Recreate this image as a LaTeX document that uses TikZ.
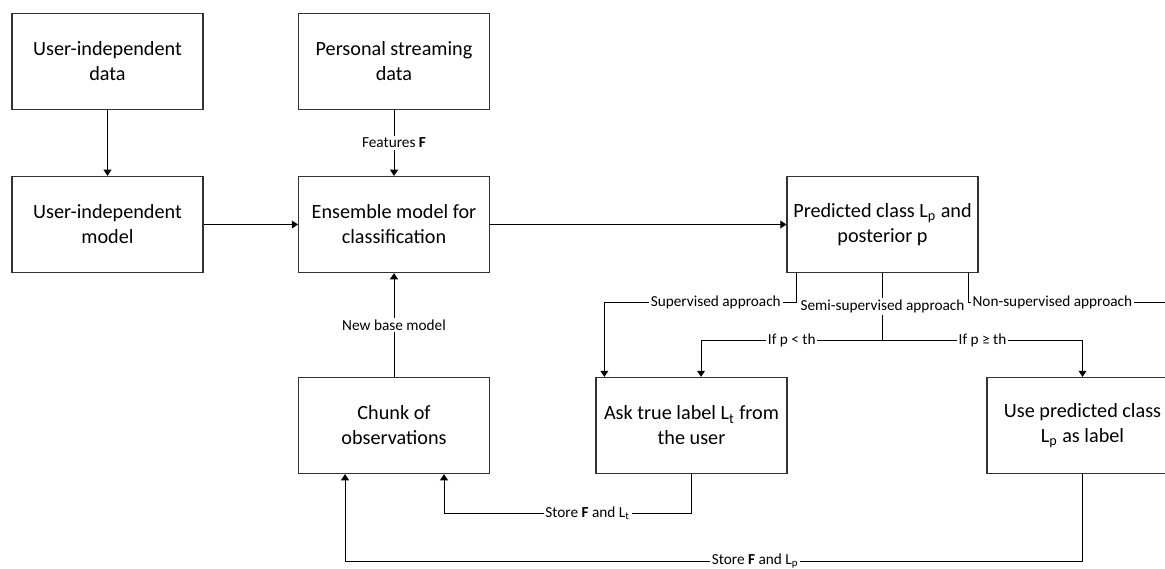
\documentclass[tikz,border=0pt]{standalone}
\usepackage{fontspec}
\setmainfont{Carlito}
\usetikzlibrary{arrows.meta}

\begin{document}
\begin{tikzpicture}[x=0.02cm,y=-0.02cm,
  box/.style={draw=black!80,line width=0.7pt,minimum width=3.82cm,minimum height=1.92cm,
    align=center,font=\fontsize{11.5}{14.2}\selectfont},
  lbl/.style={fill=white,inner sep=1pt,font=\fontsize{8.7}{10}\selectfont},
  link/.style={line width=0.55pt,-{Triangle[width=4.5pt,length=3.5pt]}}]
  \clip (0,0) rectangle (1165,568);
  % boxes
  \node[box] (udata) at (107.5,61.5) {User-independent\\data};
  \node[box] (psdata) at (394,61.5) {Personal streaming\\data};
  \node[box] (umodel) at (107.5,224.5) {User-independent\\model};
  \node[box] (ensemble) at (394,224.5) {Ensemble model for\\classification};
  \node[box] (predicted) at (882.5,224.5) {Predicted class L\textsubscript{p} and\\posterior p};
  \node[box] (chunk) at (394,425.5) {Chunk of\\observations};
  \node[box] (asklabel) at (691.5,425.5) {Ask true label L\textsubscript{t} from\\the user};
  \node[box] (uselabel) at (1082.5,425.5) {Use predicted class\\L\textsubscript{p} as label};
  \coordinate (split) at (882.5,340);
  \coordinate (offpage) at (1172,378);
  % top part
  \draw[link] (udata) -- (umodel);
  \draw[link] (psdata) -- node[lbl]{Features \textbf{F}} (ensemble);
  \draw[link] (umodel) -- (ensemble);
  \draw[link] (ensemble) -- (predicted);
  \draw[link] (chunk) -- node[lbl]{New base model} (ensemble);
  % the three approaches
  \draw[link] ([xshift=0.2cm]predicted.south west) -- ++(0,29)
    -| node[lbl,pos=0.21]{Supervised approach} ([xshift=0.18cm]asklabel.north west);
  \draw[line width=0.55pt] (predicted.south) -- node[lbl]{Semi-supervised approach} (split);
  \draw[link] (split) -| node[lbl,pos=0.25]{If p < th} ([xshift=0.19cm]asklabel.north);
  \draw[link] (split) -| node[lbl,pos=0.25]{If p ≥ th} (uselabel.north);
  \draw[link] ([xshift=-0.2cm]predicted.south east) -- ++(0,29)
    -| node[lbl,pos=0.206]{Non-supervised approach} (offpage);
  % storing back
  \draw[link] (asklabel.south) -- ++(0,39)
    -| node[lbl,pos=0.21]{Store \textbf{F} and L\textsubscript{t}} ([xshift=1cm]chunk.south);
  \draw[link] (uselabel.south) -- ++(0,87)
    -| node[lbl,pos=0.222]{Store \textbf{F} and L\textsubscript{p}} ([xshift=-0.98cm]chunk.south);
\end{tikzpicture}
\end{document}
